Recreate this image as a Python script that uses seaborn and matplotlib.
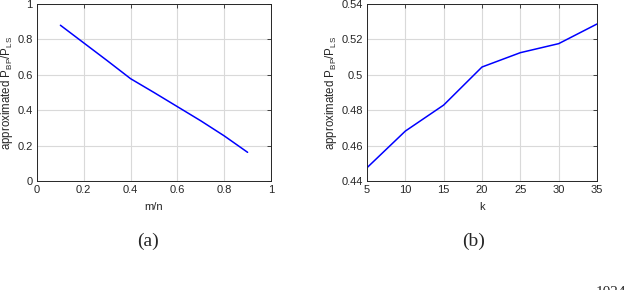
import numpy as np
import pandas as pd
import matplotlib
matplotlib.use("Agg")
import matplotlib.pyplot as plt
import seaborn as sns

# data
mn_ratio = [0.1, 0.2, 0.3, 0.4, 0.5, 0.6, 0.7, 0.8, 0.9]
ratio_a = [0.880, 0.780, 0.680, 0.578, 0.500, 0.420, 0.340, 0.255, 0.162]

k_vals = [5, 10, 15, 20, 25, 30, 35]
ratio_b = [0.4475, 0.4682, 0.4829, 0.5044, 0.5125, 0.5176, 0.5287]

ylab = r"approximated P$_{\mathrm{BP}}$/P$_{\mathrm{LS}}$"

sns.set_style("white")
plt.rcParams["font.family"] = ["Liberation Sans", "DejaVu Sans"]
plt.rcParams["mathtext.fontset"] = "custom"
plt.rcParams["mathtext.rm"] = "Liberation Sans"
plt.rcParams["mathtext.default"] = "regular"

W, H = 634, 290
fig = plt.figure(figsize=(W / 100, H / 100), dpi=100)

def px_axes(x0, y0, x1, y1):
    return fig.add_axes([x0 / W, 1 - y1 / H, (x1 - x0) / W, (y1 - y0) / H])

ax1 = px_axes(37, 4, 271, 181)
ax2 = px_axes(367, 4, 597, 181)

df_a = pd.DataFrame({"mn": mn_ratio, "r": ratio_a})
df_b = pd.DataFrame({"k": k_vals, "r": ratio_b})

sns.lineplot(data=df_a, x="mn", y="r", ax=ax1, color="#0000ff", lw=1.1)
sns.lineplot(data=df_b, x="k", y="r", ax=ax2, color="#0000ff", lw=1.1)

ax1.set_xlim(0, 1)
ax1.set_ylim(0, 1)
ax1.set_xticks([0, 0.2, 0.4, 0.6, 0.8, 1])
ax1.set_xticklabels(["0", "0.2", "0.4", "0.6", "0.8", "1"])
ax1.set_yticks([0, 0.2, 0.4, 0.6, 0.8, 1])
ax1.set_yticklabels(["0", "0.2", "0.4", "0.6", "0.8", "1"])
ax1.set_xlabel("m/n", fontsize=8, labelpad=5)

ax2.set_xlim(5, 35)
ax2.set_ylim(0.44, 0.54)
ax2.set_xticks(k_vals)
ax2.set_yticks([0.44, 0.46, 0.48, 0.5, 0.52, 0.54])
ax2.set_yticklabels(["0.44", "0.46", "0.48", "0.5", "0.52", "0.54"])
ax2.set_xlabel("k", fontsize=8, labelpad=5)

for ax in (ax1, ax2):
    ax.set_ylabel(ylab, fontsize=8.3, labelpad=2)
    ax.grid(True, color="#d9d9d9", lw=0.8)
    ax.set_axisbelow(True)
    ax.tick_params(direction="in", length=3, width=0.6, labelsize=8,
                   colors="#262626", pad=3, top=True, right=True,
                   labeltop=False, labelright=False)
    for s in ax.spines.values():
        s.set_color("#262626")
        s.set_linewidth(0.7)
        s.set_visible(True)

fig.text(148 / W, 1 - 241 / H, "(a)", family="Liberation Serif",
         fontsize=14, ha="center", va="center")
fig.text(474 / W, 1 - 241 / H, "(b)", family="Liberation Serif",
         fontsize=14, ha="center", va="center")
# fragment of the following line of the page, cut off at the bottom edge
fig.text(596 / W, 1 - 286 / H, "1024", family="Liberation Serif",
         fontsize=11, ha="left", va="top")

fig.savefig("out.png", dpi=100)
